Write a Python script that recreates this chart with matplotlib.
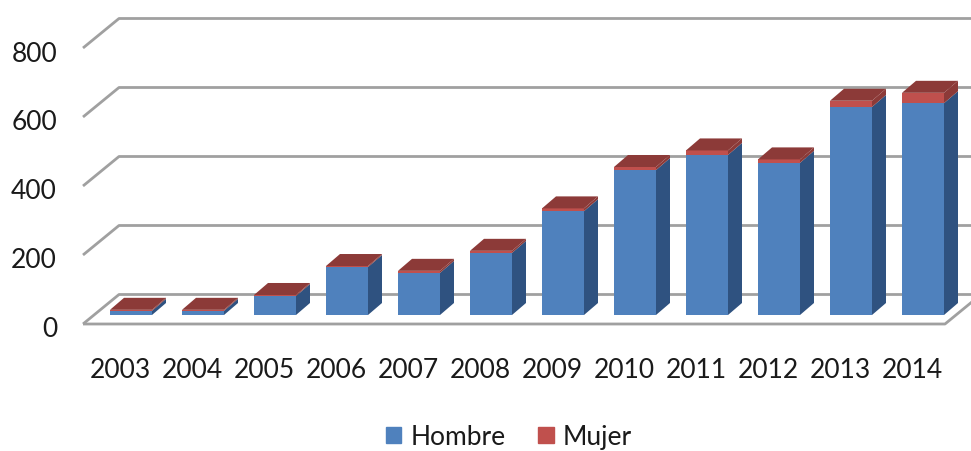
import matplotlib.pyplot as plt
from matplotlib.patches import Polygon, Patch

years = [2003, 2004, 2005, 2006, 2007, 2008, 2009, 2010, 2011, 2012, 2013, 2014]
hombre = [12, 12, 55, 139, 122, 180, 301, 420, 464, 441, 603, 614]
mujer = [3, 3, 3, 3, 6, 6, 8, 9, 13, 10, 18, 30]
y_ticks = [0, 200, 400, 600, 800]

BLUE, BLUE_SIDE = "#4F81BD", "#2F5280"
RED, RED_SIDE, RED_TOP = "#C0504D", "#8C3A38", "#8C3A38"
GRID = "#A0A0A0"
TEXT = "#1A1A1A"

plt.rcParams["font.family"] = ["Lato", "DejaVu Sans"]

# one axes over the whole figure, 72 px per category and 0.345 px per unit
px_x = 72.0
px_y = 0.345
fig = plt.figure(figsize=(9.71, 4.52), dpi=100)
ax = fig.add_axes([0, 0, 1, 1])
ax.set_xlim(-131 / px_x, 840 / px_x)
ax.set_ylim(-136 / px_y, 316 / px_y)
ax.axis("off")

# depth of a bar, and shift from the bar plane to the floor front / wall
dx, dy = 14 / px_x, 12 / px_y
front_y = -9 / px_y
wall_y = 20.5 / px_y
left = -48 / px_x
wall_left = -12 / px_x
right = 814 / px_x
right_back = 850 / px_x

for v in y_ticks:
    ax.plot([left, wall_left, 860 / px_x], [v + front_y, v + wall_y, v + wall_y],
            color=GRID, lw=2, solid_capstyle="butt", zorder=1)
    ax.text(left - 26 / px_x, v + front_y - 5 / px_y, str(v), ha="right", va="center",
            fontsize=19, color=TEXT)

# floor front edge and right side
ax.plot([left, right, right_back], [front_y, front_y, wall_y],
        color=GRID, lw=2, solid_capstyle="butt", zorder=1)

width = 42 / px_x
for i, year in enumerate(years):
    h, m = hombre[i], mujer[i]
    x0, x1 = i - width / 2, i + width / 2
    ax.bar(i, h, width, color=BLUE, zorder=2 + i)
    ax.bar(i, m, width, bottom=h, color=RED, zorder=2 + i)
    ax.add_patch(Polygon([(x1, 0), (x1 + dx, dy), (x1 + dx, h + dy), (x1, h)],
                         color=BLUE_SIDE, lw=0, zorder=2 + i))
    ax.add_patch(Polygon([(x1, h), (x1 + dx, h + dy), (x1 + dx, h + m + dy), (x1, h + m)],
                         color=RED_SIDE, lw=0, zorder=2 + i))
    ax.add_patch(Polygon([(x0, h + m), (x1, h + m), (x1 + dx, h + m + dy), (x0 + dx, h + m + dy)],
                         color=RED_TOP, lw=0, zorder=2 + i))
    ax.text(i - 11 / px_x, -55 / px_y, str(year), ha="center", va="center",
            fontsize=19, color=TEXT)

handles = [Patch(color=BLUE, label="Hombre"), Patch(color=RED, label="Mujer")]
ax.legend(handles=handles, loc="center", bbox_to_anchor=(509 / 971, 1 - 438 / 452), ncol=2,
          frameon=False, fontsize=19, handlelength=0.57, handleheight=0.57,
          handletextpad=0.34, columnspacing=1.25, labelcolor=TEXT,
          borderpad=0, borderaxespad=0)

fig.savefig("out.png", dpi=100)
